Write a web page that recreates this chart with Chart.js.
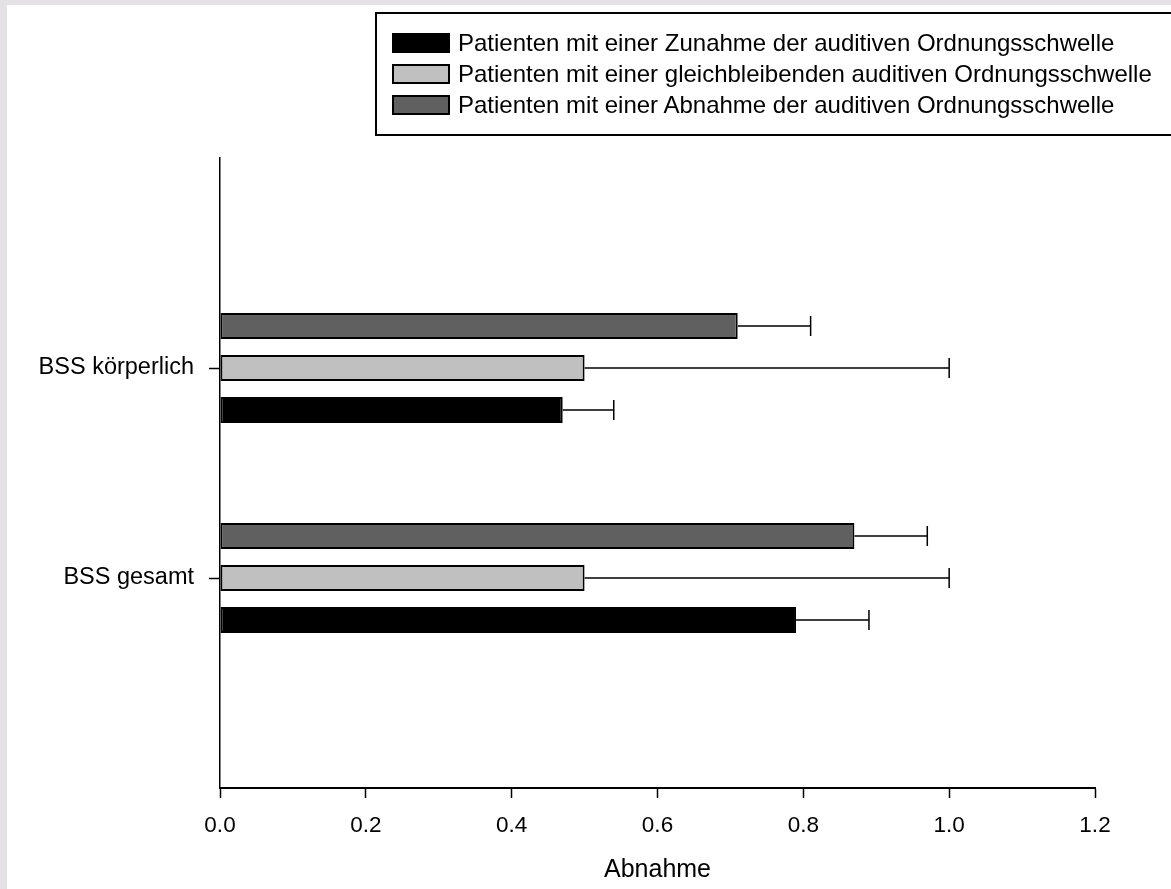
<!DOCTYPE html>
<html>
<head>
<meta charset="utf-8">
<script src="https://cdn.jsdelivr.net/npm/chart.js@4"></script>
<style>
  html, body { margin: 0; padding: 0; background: #e4e2e4; overflow: hidden; }
  #sheet { position: absolute; left: 7px; top: 5px; width: 1164px; height: 884px; background: #fff; overflow: hidden; }
  #chartBox { position: absolute; left: 0; top: 0; width: 1164px; height: 884px; }
  #legend { position: absolute; left: 368px; top: 7px; width: 830px; height: 120px; border: 2px solid #000;
            font-family: 'Liberation Sans', Arial, sans-serif; font-size: 24px; color: #000; }
  #legend .row { position: absolute; left: 15px; height: 20px; display: flex; align-items: center; white-space: nowrap; }
  #legend .sw { width: 54px; height: 16px; border: 2px solid #000; margin-right: 8px; flex: none; }
</style>
</head>
<body>
<div id="sheet">
  <div id="chartBox"><canvas id="myChart"></canvas></div>
  <div id="legend"></div>
</div>
<script>
// categories, top to bottom
let categories = ['BSS körperlich', 'BSS gesamt'];

// series in legend order
let seriesNames = [
  'Patienten mit einer Zunahme der auditiven Ordnungsschwelle',
  'Patienten mit einer gleichbleibenden auditiven Ordnungsschwelle',
  'Patienten mit einer Abnahme der auditiven Ordnungsschwelle'
];
let seriesColors = ['#000000', '#c0c0c0', '#606060'];

let zunahme = [0.47, 0.79];
let zunahmeErr = [0.07, 0.10];
let gleich = [0.50, 0.50];
let gleichErr = [0.50, 0.50];
let abnahme = [0.71, 0.87];
let abnahmeErr = [0.10, 0.10];

let fontFamily = "'Liberation Sans', Arial, sans-serif";

// pad with empty slots so the categories sit at 1/3 and 2/3 of the axis
function pad(arr, fill) {
  return [fill].concat(arr, [fill]);
}

let seriesValues = [zunahme, gleich, abnahme];
let seriesErrors = [zunahmeErr, gleichErr, abnahmeErr];

// first dataset is drawn at the top of each group, so reverse legend order
const datasets = [];
for (let i = seriesNames.length - 1; i >= 0; i--) {
  datasets.push({
    label: seriesNames[i],
    data: pad(seriesValues[i], null),
    errors: pad(seriesErrors[i], null),
    backgroundColor: seriesColors[i],
    borderColor: '#000',
    borderWidth: 2,
    borderSkipped: false,
    categoryPercentage: 0.6,
    barPercentage: 0.62
  });
}

// legend box
let legendDiv = document.getElementById('legend');
let rowTops = [19, 50, 81];
seriesNames.forEach(function(name, i) {
  let row = document.createElement('div');
  row.className = 'row';
  row.style.top = rowTops[i] + 'px';
  row.innerHTML = '<div class="sw" style="background:' + seriesColors[i] + '"></div><span>' + name + '</span>';
  legendDiv.appendChild(row);
});

const errorBars = {
  id: 'errorBars',
  afterDatasetsDraw(chart) {
    const ctx = chart.ctx;
    const xScale = chart.scales.x;
    ctx.save();
    ctx.strokeStyle = '#000';
    ctx.lineWidth = 1.5;
    chart.data.datasets.forEach(function(ds, i) {
      const meta = chart.getDatasetMeta(i);
      meta.data.forEach(function(bar, j) {
        if (ds.data[j] == null || ds.errors[j] == null) return;
        const xEnd = xScale.getPixelForValue(ds.data[j] + ds.errors[j]);
        ctx.beginPath();
        ctx.moveTo(bar.x, bar.y);
        ctx.lineTo(xEnd, bar.y);
        ctx.moveTo(xEnd, bar.y - 10);
        ctx.lineTo(xEnd, bar.y + 10);
        ctx.stroke();
      });
    });
    ctx.restore();
  }
};

const config = {
  type: 'bar',
  data: {
    labels: pad(categories, ''),
    datasets: datasets
  },
  options: {
    indexAxis: 'y',
    responsive: true,
    maintainAspectRatio: false,
    animation: false,
    layout: { padding: { top: 153, right: 76, bottom: 0, left: 0 } },
    plugins: {
      legend: { display: false },
      tooltip: { enabled: false }
    },
    scales: {
      x: {
        min: 0,
        max: 1.2,
        afterFit: function(s) { s.height = 101; },
        ticks: {
          stepSize: 0.2,
          color: '#000',
          padding: 14,
          font: { family: fontFamily, size: 22.5 },
          callback: function(v) { return Number(v).toFixed(1); }
        },
        grid: { drawOnChartArea: false, drawTicks: true, tickLength: 10, tickWidth: 1.5, tickColor: '#000' },
        border: { display: true, color: '#000', width: 2 },
        title: {
          display: true,
          text: 'Abnahme',
          color: '#000',
          font: { family: fontFamily, size: 25 },
          padding: { top: 0, bottom: 4 }
        }
      },
      y: {
        type: 'category',
        offset: false,
        afterFit: function(s) { s.width = 213; },
        ticks: {
          color: '#000',
          padding: 15,
          font: { family: fontFamily, size: 23.5 }
        },
        grid: {
          offset: false,
          drawOnChartArea: false,
          drawTicks: true,
          tickLength: 11,
          tickWidth: 1.5,
          tickColor: function(c) { return c.tick && c.tick.label ? '#000' : 'rgba(0,0,0,0)'; }
        },
        border: { display: true, color: '#000', width: 1.5 }
      }
    }
  },
  plugins: [errorBars]
};

const myChart = new Chart(document.getElementById('myChart'), config);
</script>
</body>
</html>
